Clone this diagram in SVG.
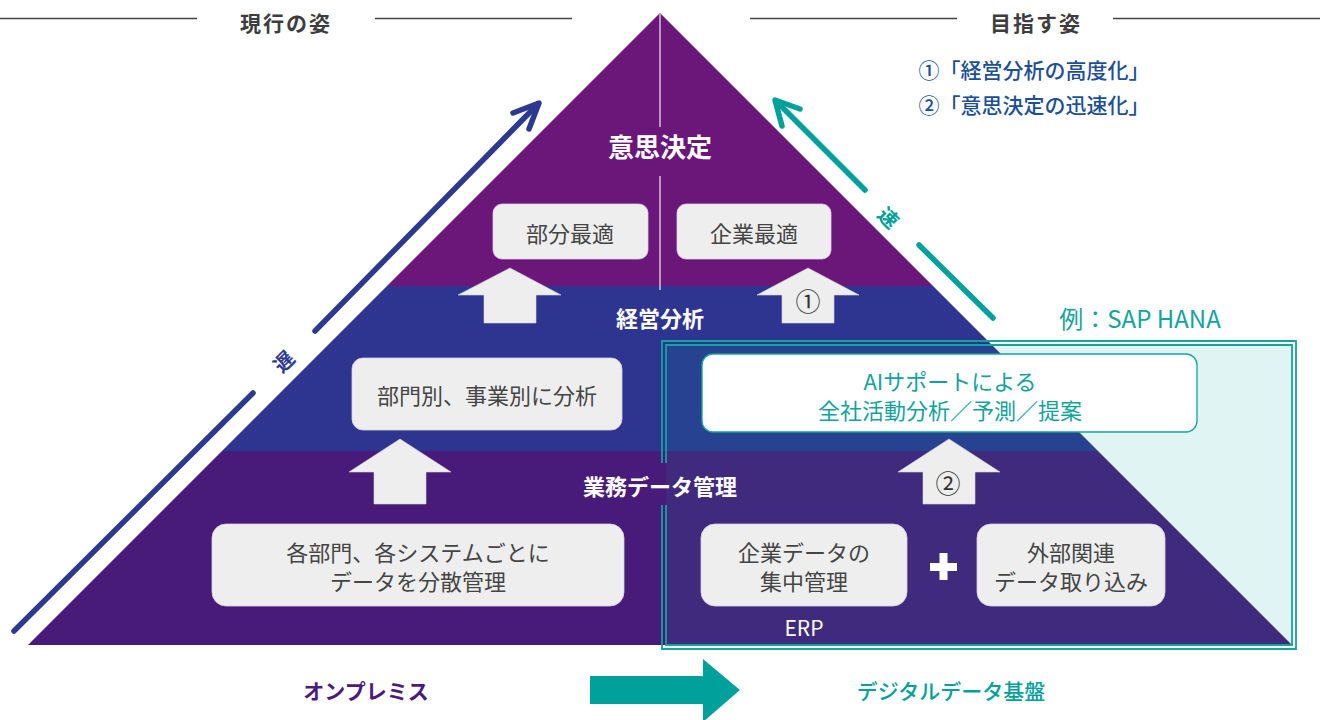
<svg xmlns="http://www.w3.org/2000/svg" width="1327" height="720" viewBox="0 0 1327 720">
<style>
text{font-family:"Noto Sans CJK JP","Noto Sans",sans-serif;dominant-baseline:central;text-anchor:middle}
.hd{font-size:21px;font-weight:700;fill:#3d3d3d;letter-spacing:2px}
.hl{stroke:#444;stroke-width:1.5}
.goal{font-size:21px;font-weight:500;fill:#1d4f97}
.band{font-size:22px;font-weight:700;fill:#fff}
.box{fill:#eeeeee;stroke:#d9d2e0;stroke-width:0.8}
.bt{font-size:22px;fill:#454545}
.blk{fill:#eeeeee;stroke:#d6d6d6;stroke-width:0.6}
.num{font-size:25px;fill:#333}
.teal{fill:#00a19a}
.sap{fill:none;stroke:#12a59e;stroke-width:1.8}
</style>
<defs/>
<rect width="1327" height="720" fill="#fff"/>

<g id="header">
  <line class="hl" x1="0" y1="18.5" x2="197" y2="18.5"/>
  <line class="hl" x1="375" y1="18.5" x2="572" y2="18.5"/>
  <text class="hd" x="286" y="22">現行の姿</text>
  <line class="hl" x1="750" y1="18.5" x2="957" y2="18.5"/>
  <line class="hl" x1="1113" y1="18.5" x2="1320" y2="18.5"/>
  <text class="hd" x="1036" y="22">目指す姿</text>
  <text class="goal" x="1034" y="69">①「経営分析の高度化」</text>
  <text class="goal" x="1034" y="104">②「意思決定の迅速化」</text>
</g>

<g id="pyramid">
  <polygon points="660,13 933,286 387,286" fill="#6b1779"/>
  <polygon points="387,286 933,286 1098,451 222,451" fill="#2e3591"/>
  <polygon points="222,451 1098,451 1292,645 28,645" fill="#481a7a"/>
  <line x1="660" y1="14" x2="660" y2="127" stroke="#e6dcea" stroke-width="1.3"/>
  <line x1="660" y1="176" x2="660" y2="290" stroke="#e6dcea" stroke-width="1.3"/>
  <text class="band" x="660" y="145" style="font-size:26px">意思決定</text>
  <text class="band" x="660" y="317">経営分析</text>
</g>

<g id="sap-hana">
  <rect x="666" y="345" width="626" height="300" fill="#00a19a" fill-opacity="0.12"/>
  <path class="sap" d="M662,463 V341 H1296 V649 H662 V505"/>
  <path class="sap" d="M666,463 V345 H1292 V645 H666 V505"/>
  <text x="1140" y="317" style="font-size:24px;fill:#13a49d">例：SAP HANA</text>
</g>

<text class="band" x="660" y="485" id="label-gyomu">業務データ管理</text>

<g id="node-bubun">
  <rect class="box" x="493" y="204" width="155" height="55" rx="9"/>
  <text class="bt" x="570" y="232">部分最適</text>
</g>
<g id="node-kigyo">
  <rect class="box" x="677" y="204" width="154" height="55" rx="9"/>
  <text class="bt" x="754" y="232">企業最適</text>
</g>
<g id="node-bumon">
  <rect class="box" x="352" y="358" width="270" height="72" rx="11"/>
  <text class="bt" x="487" y="394">部門別、事業別に分析</text>
</g>
<g id="node-ai">
  <rect x="702" y="354" width="495" height="78" rx="11" fill="#fff" stroke="#12a59e" stroke-width="1.3"/>
  <text x="950" y="380" style="font-size:22px;fill:#11a39c">AIサポートによる</text>
  <text x="950" y="409" style="font-size:22px;fill:#11a39c">全社活動分析／予測／提案</text>
</g>
<g id="node-bunsan">
  <rect class="box" x="212" y="524" width="412" height="82" rx="14"/>
  <text class="bt" x="418" y="551">各部門、各システムごとに</text>
  <text class="bt" x="418" y="580">データを分散管理</text>
</g>
<g id="node-shuchu">
  <rect class="box" x="701" y="524" width="206" height="82" rx="14"/>
  <text class="bt" x="804" y="551">企業データの</text>
  <text class="bt" x="804" y="580">集中管理</text>
  <text x="804" y="627" style="font-size:21px;fill:#fff">ERP</text>
</g>
<g id="plus">
  <rect x="930" y="563" width="27" height="8" fill="#fff"/>
  <rect x="939.5" y="553" width="8" height="27" fill="#fff"/>
</g>
<g id="node-gaibu">
  <rect class="box" x="977" y="524" width="188" height="82" rx="14"/>
  <text class="bt" x="1071" y="551">外部関連</text>
  <text class="bt" x="1071" y="580">データ取り込み</text>
</g>

<g id="connectors">
  <path class="blk" d="M510,268 L561,295 L536,295 L536,323 L484,323 L484,295 L458,295 Z"/>
  <path class="blk" d="M808,268 L859,295 L834,295 L834,323 L782,323 L782,295 L757,295 Z"/>
  <text class="num" x="808" y="300">①</text>
  <path class="blk" d="M400,439 L451,472 L426,472 L426,504 L374,504 L374,472 L349,472 Z"/>
  <path class="blk" d="M949,439 L1000,472 L975,472 L975,504 L923,504 L923,472 L898,472 Z"/>
  <text class="num" x="948" y="482">②</text>

  <g stroke="#2b3990" stroke-width="5.5" fill="none" stroke-linecap="round" stroke-linejoin="round">
    <line x1="14" y1="631" x2="253" y2="393"/>
    <line x1="315" y1="331" x2="538" y2="104"/>
    <polyline points="513,113 539,103 529,129"/>
  </g>
  <text x="283" y="361" transform="rotate(-45 283 361)" style="font-size:20px;font-weight:700;fill:#2b3990">遅</text>

  <g stroke="#00a19a" stroke-width="5.5" fill="none" stroke-linecap="round" stroke-linejoin="round">
    <line x1="776" y1="101" x2="865" y2="190"/>
    <line x1="919" y1="245" x2="993" y2="318"/>
    <polyline points="800,109 775,100 782,126"/>
  </g>
  <text x="889" y="217" transform="rotate(45 889 217)" style="font-size:20px;font-weight:700;fill:#00a19a">速</text>

  <path class="teal" d="M590,676 H703 V659 L740,690 L703,722 V704 H590 Z"/>
</g>

<g id="footer">
  <text x="366" y="690" style="font-size:21px;font-weight:700;fill:#4a1a7c">オンプレミス</text>
  <text x="951" y="690" style="font-size:21px;font-weight:500;fill:#00a19a">デジタルデータ基盤</text>
</g>
</svg>
